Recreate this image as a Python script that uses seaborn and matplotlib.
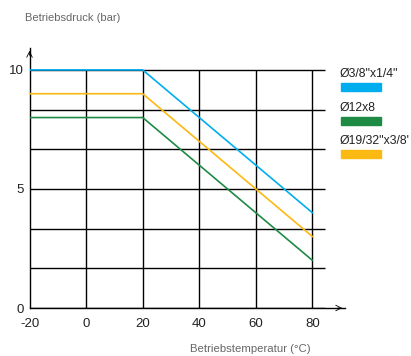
import matplotlib
matplotlib.use("Agg")
import matplotlib.pyplot as plt
import seaborn as sns
import pandas as pd
from matplotlib.patches import Rectangle
from matplotlib import font_manager

temps = [-20, 20, 80]
p_38 = [10, 10, 4]
p_12 = [8, 8, 2]
p_1932 = [9, 9, 3]
series_names = ['Ø3/8"x1/4"', 'Ø12x8', 'Ø19/32"x3/8\'']
series_values = [p_38, p_12, p_1932]
colors = ["#00AEEF", "#1E8B45", "#FDB913"]
xticks = [-20, 0, 20, 40, 60, 80]
yticks = [0, 5, 10]
ygrid = [0, 5/3, 10/3, 5, 20/3, 25/3, 10]
xlabel = "Betriebstemperatur (°C)"
ylabel = "Betriebsdruck (bar)"

sns.set_style("white")
names = {f.name for f in font_manager.fontManager.ttflist}
fam = "Liberation Sans Narrow" if "Liberation Sans Narrow" in names else "Liberation Sans"
plt.rcParams["font.family"] = [fam, "DejaVu Sans"]

rows = []
for n, vals in zip(series_names, series_values):
    for t, v in zip(temps, vals):
        rows.append({"T": t, "P": v, "S": n})
df = pd.DataFrame(rows)

fig = plt.figure(figsize=(4.11, 3.56), dpi=100)
ax = fig.add_axes([0.0718, 0.1348, 0.7676, 0.7303])
ax.set_xlim(-20, 91.5)
ax.set_ylim(0, 10.92)

# grid
ax.hlines(ygrid, -20, 84.4, color="black", lw=1.0, zorder=1)
ax.vlines(xticks[1:], 0, 10, color="black", lw=1.0, zorder=1)

sns.lineplot(data=df, x="T", y="P", hue="S", palette=dict(zip(series_names, colors)),
             lw=1.2, ax=ax, legend=False, zorder=3)

for s in ["top", "right"]:
    ax.spines[s].set_visible(False)
for s in ["left", "bottom"]:
    ax.spines[s].set_color("black")
    ax.spines[s].set_linewidth(1.0)

# arrow heads
ax.annotate("", xy=(-20, 10.92), xytext=(-20, 10.5),
            arrowprops=dict(arrowstyle="->", color="black", lw=0.6, mutation_scale=10),
            annotation_clip=False)
ax.annotate("", xy=(91.5, 0), xytext=(88, 0),
            arrowprops=dict(arrowstyle="->", color="black", lw=0.6, mutation_scale=10),
            annotation_clip=False)

ax.set_xticks(xticks)
ax.set_xticklabels([str(v) for v in xticks])
ax.set_yticks(yticks)
ax.set_yticklabels([str(v) for v in yticks])
ax.tick_params(axis="both", length=0, labelsize=9.5, colors="#222222")
ax.tick_params(axis="x", pad=7)
ax.tick_params(axis="y", pad=4)
ax.set_xlabel("")
ax.set_ylabel("")

fig.text(25/411, 1 - 18/356, ylabel, fontsize=8, color="#666666", va="center", ha="left")
fig.text(311/411, 1 - 349/356, xlabel, fontsize=8.2, color="#666666", va="center", ha="right")

# legend
text_y = [74, 108, 141]
patch_y = [87, 121, 154]
for n, c, ty, py in zip(series_names, colors, text_y, patch_y):
    fig.text(340/411, 1 - ty/356, n, fontsize=8.8, color="#222222", va="center", ha="left")
    fig.patches.append(Rectangle((341/411, 1 - (py + 4)/356), 40/411, 8/356,
                                 transform=fig.transFigure, color=c, figure=fig))

fig.savefig("out.png", dpi=100)
